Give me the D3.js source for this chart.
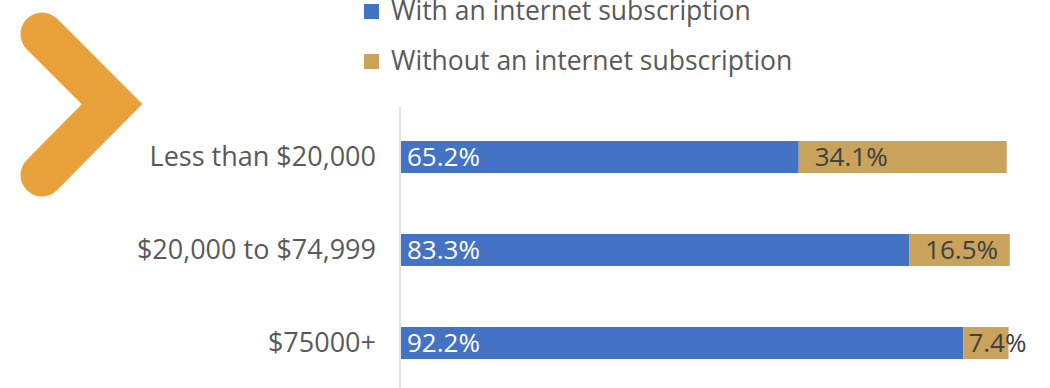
<!DOCTYPE html>
<html>
<head>
<meta charset="utf-8">
<script src="https://cdn.jsdelivr.net/npm/d3@7"></script>
<style>
  html, body { margin: 0; padding: 0; background: #ffffff; }
  svg { display: block; font-family: "Open Sans", "Noto Sans", sans-serif; }
</style>
</head>
<body>
<svg id="chart" width="1050" height="388"></svg>
<script>
// ---- data ----
const categories = ["Less than $20,000", "$20,000 to $74,999", "$75000+"];
const withInternet = [65.2, 83.3, 92.2];
const withoutInternet = [34.1, 16.5, 7.4];
const seriesNames = ["With an internet subscription", "Without an internet subscription"];
const seriesColors = ["#4472C4", "#C9A25B"];

const svg = d3.select("#chart");

// decorative chevron (top-left)
svg.append("path")
  .attr("d", d3.line()([[42, 34], [112, 104], [42, 175]]))
  .attr("fill", "none")
  .attr("stroke", "#E9A23B")
  .attr("stroke-width", 43)
  .attr("stroke-linecap", "round")
  .attr("stroke-linejoin", "miter");

// scales
const x = d3.scaleLinear().domain([0, 100]).range([401, 1011]);
const y = d3.scaleBand().domain(categories).range([110.5, 389.5])
  .paddingInner(0.656).paddingOuter(0.328);

// category axis
const yAxis = d3.axisLeft(y).tickSize(0).tickPadding(24);
const gAxis = svg.append("g").attr("transform", "translate(400,0)").call(yAxis);
gAxis.select(".domain").attr("stroke", "#D9D9D9").attr("stroke-width", 1.5)
  .attr("d", "M0,107V388");
gAxis.selectAll(".tick text")
  .attr("font-size", 27)
  .attr("fill", "#595959")
  .attr("font-family", "'Open Sans', sans-serif");

const rows = categories.map((c, i) => ({ cat: c, a: withInternet[i], b: withoutInternet[i] }));

// blue bars
svg.append("g").selectAll("rect").data(rows).join("rect")
  .attr("x", d => x(0))
  .attr("y", d => y(d.cat))
  .attr("width", d => x(d.a) - x(0))
  .attr("height", y.bandwidth())
  .attr("fill", seriesColors[0]);

// tan bars
svg.append("g").selectAll("rect").data(rows).join("rect")
  .attr("x", d => x(d.a))
  .attr("y", d => y(d.cat))
  .attr("width", d => x(d.a + d.b) - x(d.a))
  .attr("height", y.bandwidth())
  .attr("fill", seriesColors[1]);

// blue labels
svg.append("g").selectAll("text").data(rows).join("text")
  .attr("x", d => x(0) + 6)
  .attr("y", d => y(d.cat) + y.bandwidth() / 2)
  .attr("dy", "0.35em")
  .attr("font-size", 26)
  .attr("fill", "#ffffff")
  .text(d => d.a.toFixed(1) + "%");

// tan labels
const tanLabels = svg.append("g").selectAll("text").data(rows).join("text")
  .attr("y", d => y(d.cat) + y.bandwidth() / 2)
  .attr("dy", "0.35em")
  .attr("font-size", 26)
  .attr("fill", "#404040")
  .text(d => d.b.toFixed(1) + "%");
tanLabels.each(function(d) {
  const w = this.getComputedTextLength();
  const segW = x(d.a + d.b) - x(d.a);
  const off = (segW >= w + 20) ? 16 : 5;
  d3.select(this).attr("x", x(d.a) + off);
});

// legend
const legend = svg.append("g");
seriesNames.forEach((name, i) => {
  const ly = [11, 61][i];
  legend.append("rect")
    .attr("x", 364).attr("y", ly - 7).attr("width", 15).attr("height", 15)
    .attr("fill", seriesColors[i]);
  legend.append("text")
    .attr("x", 391).attr("y", ly).attr("dy", "0.35em")
    .attr("font-size", 26.5).attr("fill", "#595959")
    .text(name);
});
</script>
</body>
</html>
